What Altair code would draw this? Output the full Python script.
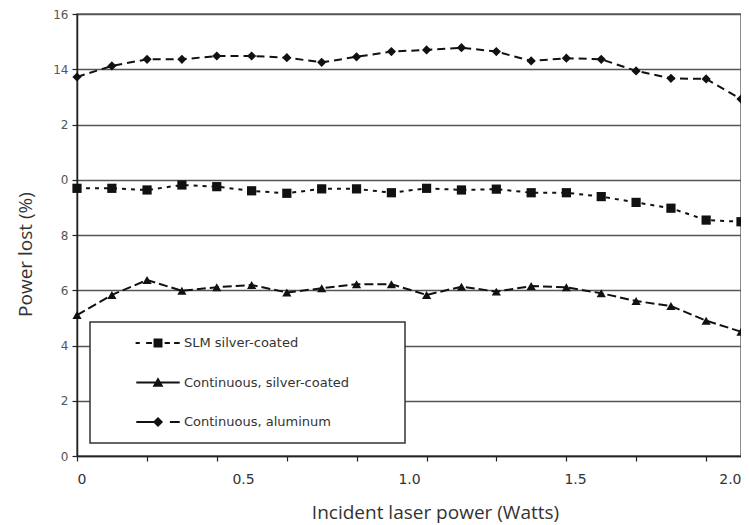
import altair as alt
import pandas as pd

# ---- data ----
x_power = [0, 0.105, 0.211, 0.316, 0.421, 0.526, 0.632, 0.737, 0.842, 0.947,
           1.053, 1.158, 1.263, 1.368, 1.474, 1.579, 1.684, 1.789, 1.895, 2.0]
slm_silver = [9.69, 9.69, 9.63, 9.81, 9.75, 9.60, 9.51, 9.67, 9.67, 9.53,
              9.69, 9.63, 9.66, 9.53, 9.53, 9.39, 9.18, 8.97, 8.54, 8.48]
cont_silver = [5.10, 5.83, 6.37, 5.98, 6.11, 6.19, 5.92, 6.07, 6.22, 6.22,
               5.83, 6.13, 5.95, 6.15, 6.11, 5.89, 5.61, 5.43, 4.90, 4.50]
cont_alum = [13.72, 14.12, 14.36, 14.36, 14.48, 14.48, 14.42, 14.25, 14.45, 14.64,
             14.70, 14.78, 14.64, 14.30, 14.40, 14.36, 13.94, 13.67, 13.65, 12.92]
series_names = ["SLM silver-coated", "Continuous, silver-coated", "Continuous, aluminum"]

x_tick_values = [0, 0.211, 0.421, 0.632, 0.842, 1.053, 1.263, 1.474, 1.684, 1.895]
x_label_values = [0, 0.5, 1.0, 1.5, 2.0]
y_tick_values = [0, 2, 4, 6, 8, 10, 12, 14, 16]
y_tick_labels = ["0", "2", "4", "6", "8", "0", "2", "14", "16"]

rows = []
for name, vals in zip(series_names, [slm_silver, cont_silver, cont_alum]):
    for xv, yv in zip(x_power, vals):
        rows.append({"power": xv, "loss": yv, "series": name})
df = pd.DataFrame(rows)

INK = "#111111"
TITLE_FONT = "Open Sans"
LABEL_FONT = "DejaVu Sans"

x_axis = alt.Axis(
    values=sorted(set(x_tick_values + x_label_values)),
    labelExpr="indexof([0,0.5,1,1.5,2], datum.value) >= 0 ? (datum.value == 0 ? '0' : format(datum.value, '.1f')) : ''",
    labelOverlap=False,
    tickOpacity={"condition": {"test": "indexof([0.5,1,1.5,2], datum.value) >= 0", "value": 0}, "value": 1},
    grid=False,
    tickSize=5, tickColor="#222", tickWidth=1.2,
    domainColor="#222", domainWidth=1.5,
    labelFont=LABEL_FONT, labelFontSize=14, labelColor="#333", labelPadding=11,
    title="Incident laser power (Watts)",
    titleFont=TITLE_FONT, titleFontSize=19, titleFontWeight="normal", titleColor="#333",
    titleX=358, titleY=62, titleBaseline="alphabetic",
)
y_axis = alt.Axis(
    values=y_tick_values,
    labelExpr="[" + ",".join(f"'{l}'" for l in y_tick_labels) + "][datum.value / 2]",
    grid=True, gridColor="#555", gridWidth=1.5,
    tickSize=5, tickColor="#222", tickWidth=1.2,
    domainColor="#222", domainWidth=1.5,
    labelFont=LABEL_FONT, labelFontSize=12, labelColor="#555", labelPadding=4,
    title="Power lost (%)",
    titleFont=TITLE_FONT, titleFontSize=19, titleFontWeight="normal", titleColor="#333",
    titleX=-52, titleY=240, titleBaseline="middle",
)

X = alt.X("power:Q", scale=alt.Scale(domain=[0, 2.0], nice=False, zero=False), axis=x_axis)
Y = alt.Y("loss:Q", scale=alt.Scale(domain=[0, 16], nice=False), axis=y_axis)

base = alt.Chart(df)

lines = base.mark_line(strokeWidth=2, color=INK).encode(
    x=X, y=Y,
    detail="series:N",
    strokeDash=alt.StrokeDash(
        "series:N",
        scale=alt.Scale(domain=series_names, range=[[4, 5], [9, 4], [8, 5]]),
        legend=None,
    ),
)

points = base.mark_point(filled=True, color=INK, opacity=1, size=85).encode(
    x=X, y=Y,
    shape=alt.Shape(
        "series:N",
        scale=alt.Scale(domain=series_names, range=["square", "triangle-up", "diamond"]),
        legend=None,
    ),
)


# legend symbols: short line pieces (thin filled bars) with the marker on them
def bar(a, b, t=0.14):
    return f"M{a},{-t}H{b}V{t}H{a}Z"


legend_paths = [
    bar(-3.2, -2.6) + bar(-1.7, -0.85) + bar(0.95, 1.7) + bar(2.3, 3.1)
    + "M-0.64,-0.64H0.64V0.64H-0.64Z",
    bar(-3.1, 3.1) + "M0,-0.75L0.78,0.6L-0.78,0.6Z",
    bar(-3.1, -0.3) + bar(1.7, 3.1) + "M0,-0.72L0.72,0L0,0.72L-0.72,0Z",
]
# trailing blank room inside the legend box (zero-width space keeps it from being trimmed)
pad_blank = "\u00a0" * 10 + "\u200b"

legend_layer = base.mark_point(filled=True, color=INK, opacity=0).encode(
    x=X, y=Y,
    shape=alt.Shape(
        "series:N",
        scale=alt.Scale(domain=series_names, range=legend_paths),
        legend=alt.Legend(
            title=None,
            orient="none", legendX=13, legendY=308,
            padding=14, symbolOffset=47, labelOffset=19, rowPadding=25.5,
            symbolSize=196, symbolStrokeWidth=0,
            symbolFillColor=INK, symbolOpacity=1,
            labelFont=LABEL_FONT, labelFontSize=13, labelColor="#333", labelLimit=600,
            labelExpr="datum.label + '" + pad_blank + "'",
            strokeColor="#333", fillColor="white",
        ),
    ),
)

chart = (
    alt.layer(lines, points, legend_layer)
    .resolve_scale(shape="independent")
    .properties(
        width=664, height=442,
        autosize=alt.AutoSizeParams(type="none"),
        padding={"left": 69, "top": 6, "right": 0, "bottom": 68},
        background="white",
    )
    .configure_view(stroke="#666", strokeWidth=1.5)
    .configure_legend(strokeWidth=1.5)
)

chart.save("out.html", embed_options={"renderer": "svg", "actions": False})
